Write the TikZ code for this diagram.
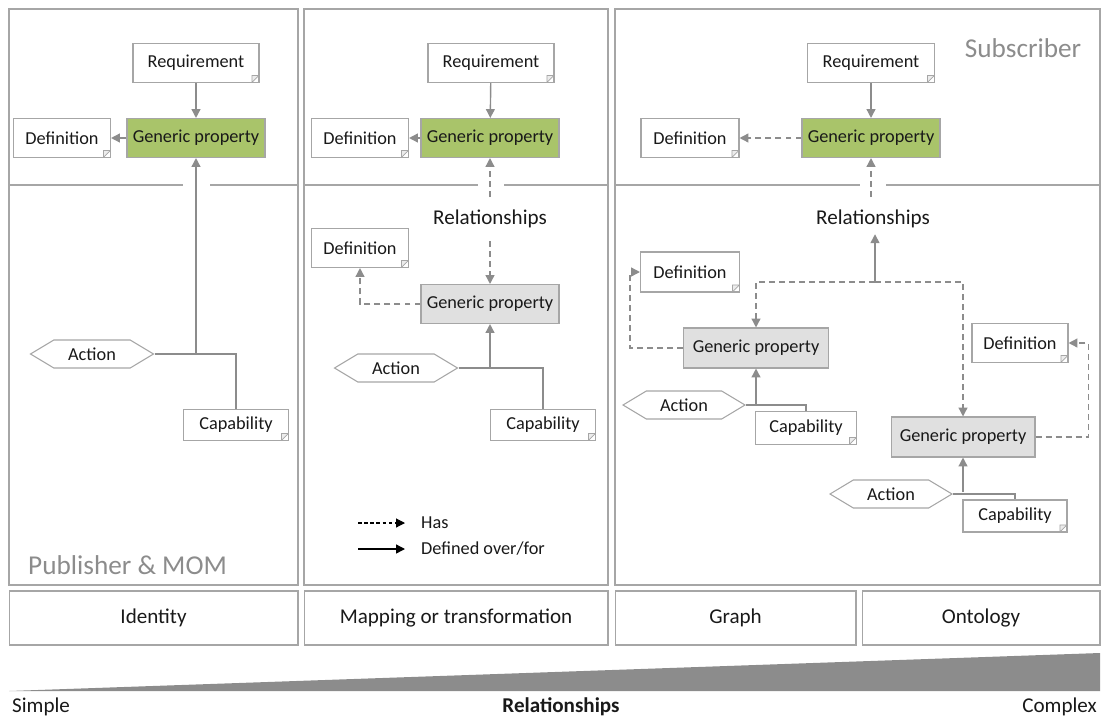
\documentclass[tikz,border=0pt]{standalone}
\usepackage{fontspec}
\setmainfont{Carlito}
\usetikzlibrary{shapes.symbols}
\usetikzlibrary{arrows.meta}
\definecolor{linegray}{RGB}{140,140,140}
\definecolor{boxgray}{RGB}{166,166,166}
\definecolor{gpgreen}{RGB}{169,196,106}
\definecolor{gpgray}{RGB}{224,224,224}

\begin{document}
\begin{tikzpicture}[x=0.02cm,y=-0.02cm,
	every node/.style={font=\fontsize{10.4}{12}\selectfont,text=black!90},
	panel/.style={draw=boxgray,line width=0.6pt},
	doc/.style={draw=boxgray,fill=white,line width=0.6pt,minimum height=0.78cm,inner sep=2pt,
		path picture={\draw[boxgray,fill=gray!15,line width=0.4pt]
			([xshift=-4pt]path picture bounding box.south east) --
			([yshift=4pt]path picture bounding box.south east) --
			([xshift=-4pt,yshift=4pt]path picture bounding box.south east) -- cycle;}},
	gp/.style={draw=boxgray,line width=0.6pt,minimum width=2.76cm,minimum height=0.78cm,inner sep=2pt},
	action/.style={draw=boxgray,fill=white,line width=0.6pt,signal,signal to=west and east,
		signal pointer angle=62,minimum width=2.46cm,minimum height=0.56cm,inner sep=1pt},
	cat/.style={draw=boxgray,line width=0.6pt,minimum height=1.08cm,font=\fontsize{12}{14}\selectfont},
	role/.style={text=linegray,font=\fontsize{15.5}{18}\selectfont},
	rel/.style={font=\fontsize{12}{14}\selectfont},
	has/.style={draw=linegray,line width=0.8pt,dash pattern=on 3.4pt off 2.3pt,-{Triangle[length=5pt,width=5pt]}},
	defby/.style={draw=linegray,line width=0.8pt,-{Triangle[length=5pt,width=5pt]}},
	link/.style={draw=linegray,line width=0.8pt}]

	\useasboundingbox (0,0) rectangle (1108,720);

	\draw[panel] (9,9) rectangle (298,585);
	\draw[panel] (304,9) rectangle (608,585);
	\draw[panel] (615,9) rectangle (1100,585);
	\draw[panel] (9,185) -- (183,185) (210,185) -- (298,185);
	\draw[panel] (304,185) -- (478,185) (504,185) -- (608,185);
	\draw[panel] (615,185) -- (860,185) (886,185) -- (1100,185);

	\node[role,anchor=west] (pub) at (22,565) {Publisher \& MOM};
	\node[role] (sub) at (1023,48) {Subscriber};

	\node[doc,minimum width=2.52cm] (req 1) at (196,63) {Requirement};
	\node[gp,fill=gpgreen] (gp 1) at (196,138) {Generic property};
	\node[doc,minimum width=1.94cm] (def 1) at (62,138) {Definition};
	\node[action] (act 1) at (92,354) {Action};
	\node[doc,minimum width=2.1cm,minimum height=0.62cm] (cap 1) at (236,425) {Capability};
	\coordinate (join 1) at (196,354);
	\draw[defby] (req 1) -- (gp 1);
	\draw[defby] (gp 1) -- (def 1);
	\draw[defby] (join 1) -- (gp 1);
	\draw[link] (act 1.east) -| (cap 1.north);

	\node[doc,minimum width=2.52cm] (req 2) at (491,63) {Requirement};
	\node[gp,fill=gpgreen] (gp 2) at (490,138) {Generic property};
	\node[doc,minimum width=1.94cm] (def 2) at (360,138) {Definition};
	\node[rel] (rel 2) at (490,219) {Relationships};
	\node[doc,minimum width=1.94cm] (def 2b) at (360,248) {Definition};
	\node[gp,fill=gpgray] (gpx 2) at (490,304) {Generic property};
	\node[action] (act 2) at (396,368) {Action};
	\node[doc,minimum width=2.1cm,minimum height=0.62cm] (cap 2) at (543,425) {Capability};
	\coordinate (top 2) at (490,197);
	\coordinate (join 2) at (490,368);
	\draw[defby] (req 2) -- (gp 2);
	\draw[defby] (gp 2) -- (def 2);
	\draw[has] (top 2) -- (gp 2);
	\draw[has] ([yshift=-4pt]rel 2.south) -- (gpx 2);
	\draw[has] (gpx 2.west) -| (def 2b.south);
	\draw[defby] (join 2) -- (gpx 2);
	\draw[link] (act 2.east) -| (cap 2.north);

	\coordinate (has a) at (358,523);
	\coordinate (has b) at (405,523);
	\coordinate (def a) at (358,549);
	\coordinate (def b) at (405,549);
	\node[anchor=west] (has l) at (415,523) {Has};
	\node[anchor=west] (def l) at (415,549) {Defined over/for};
	\draw[black,line width=0.6pt,dash pattern=on 2pt off 1.5pt,-{Triangle[length=5pt,width=5pt]}] (has a) -- (has b);
	\draw[black,line width=0.8pt,-{Triangle[length=5pt,width=5pt]}] (def a) -- (def b);

	\node[doc,minimum width=2.54cm] (req 3) at (871,63) {Requirement};
	\node[gp,fill=gpgreen] (gp 3) at (871,138) {Generic property};
	\node[doc,minimum width=1.96cm] (def 3) at (690,138) {Definition};
	\node[rel] (rel 3) at (873,219) {Relationships};
	\node[gp,fill=gpgray,minimum width=2.9cm,minimum height=0.8cm] (gpa 3) at (756,348) {Generic property};
	\node[doc,minimum width=1.98cm,minimum height=0.8cm] (def 3a) at (690,272) {Definition};
	\node[action,minimum width=2.44cm] (act 3a) at (684,405) {Action};
	\node[doc,minimum width=2.02cm,minimum height=0.66cm] (cap 3a) at (806,428) {Capability};
	\node[gp,fill=gpgray,minimum width=2.88cm,minimum height=0.8cm] (gpb 3) at (963,437) {Generic property};
	\node[doc,minimum width=1.92cm] (def 3b) at (1020,343) {Definition};
	\node[action,minimum width=2.44cm] (act 3b) at (891,494) {Action};
	\node[doc,minimum width=2.08cm,minimum height=0.64cm] (cap 3b) at (1015,516) {Capability};
	\coordinate (top 3) at (871,197);
	\coordinate (split 3) at (875,282);
	\coordinate (join 3a) at (756,404);
	\coordinate (join 3b) at (963,492);
	\draw[defby] (req 3) -- (gp 3);
	\draw[has] (gp 3) -- (def 3);
	\draw[has] (top 3) -- (gp 3);
	\draw[defby] (split 3) -- (split 3 |- rel 3.south);
	\draw[has] (split 3) -| (gpa 3.north);
	\draw[has] (split 3) -| (gpb 3.north);
	\draw[has] (gpa 3.west) -- ++(-53,0) |- (def 3a.west);
	\draw[has] (gpb 3.east) -- ++(53,0) |- (def 3b.east);
	\draw[defby] (join 3a) -- (gpa 3);
	\draw[link] (act 3a.east) -| (cap 3a.north);
	\draw[defby] (join 3b) -- (gpb 3);
	\draw[link] (act 3b.east) -| (cap 3b.north);

	\node[cat,minimum width=5.78cm] (identity) at (153.5,618) {Identity};
	\node[cat,minimum width=6.08cm] (mapping) at (456,618) {Mapping or transformation};
	\node[cat,minimum width=4.82cm] (graph) at (735.5,618) {Graph};
	\node[cat,minimum width=4.76cm] (ontology) at (981,618) {Ontology};

	\fill[linegray] (9,691) -- (1100,691) -- (1100,653) -- cycle;
	\node[anchor=west,font=\fontsize{12}{14}\selectfont] (simple) at (6,707) {Simple};
	\node[font=\fontsize{12}{14}\bfseries] (relationships) at (561,707) {Relationships};
	\node[anchor=east,font=\fontsize{12}{14}\selectfont] (complex) at (1103,707) {Complex};

\end{tikzpicture}
\end{document}
